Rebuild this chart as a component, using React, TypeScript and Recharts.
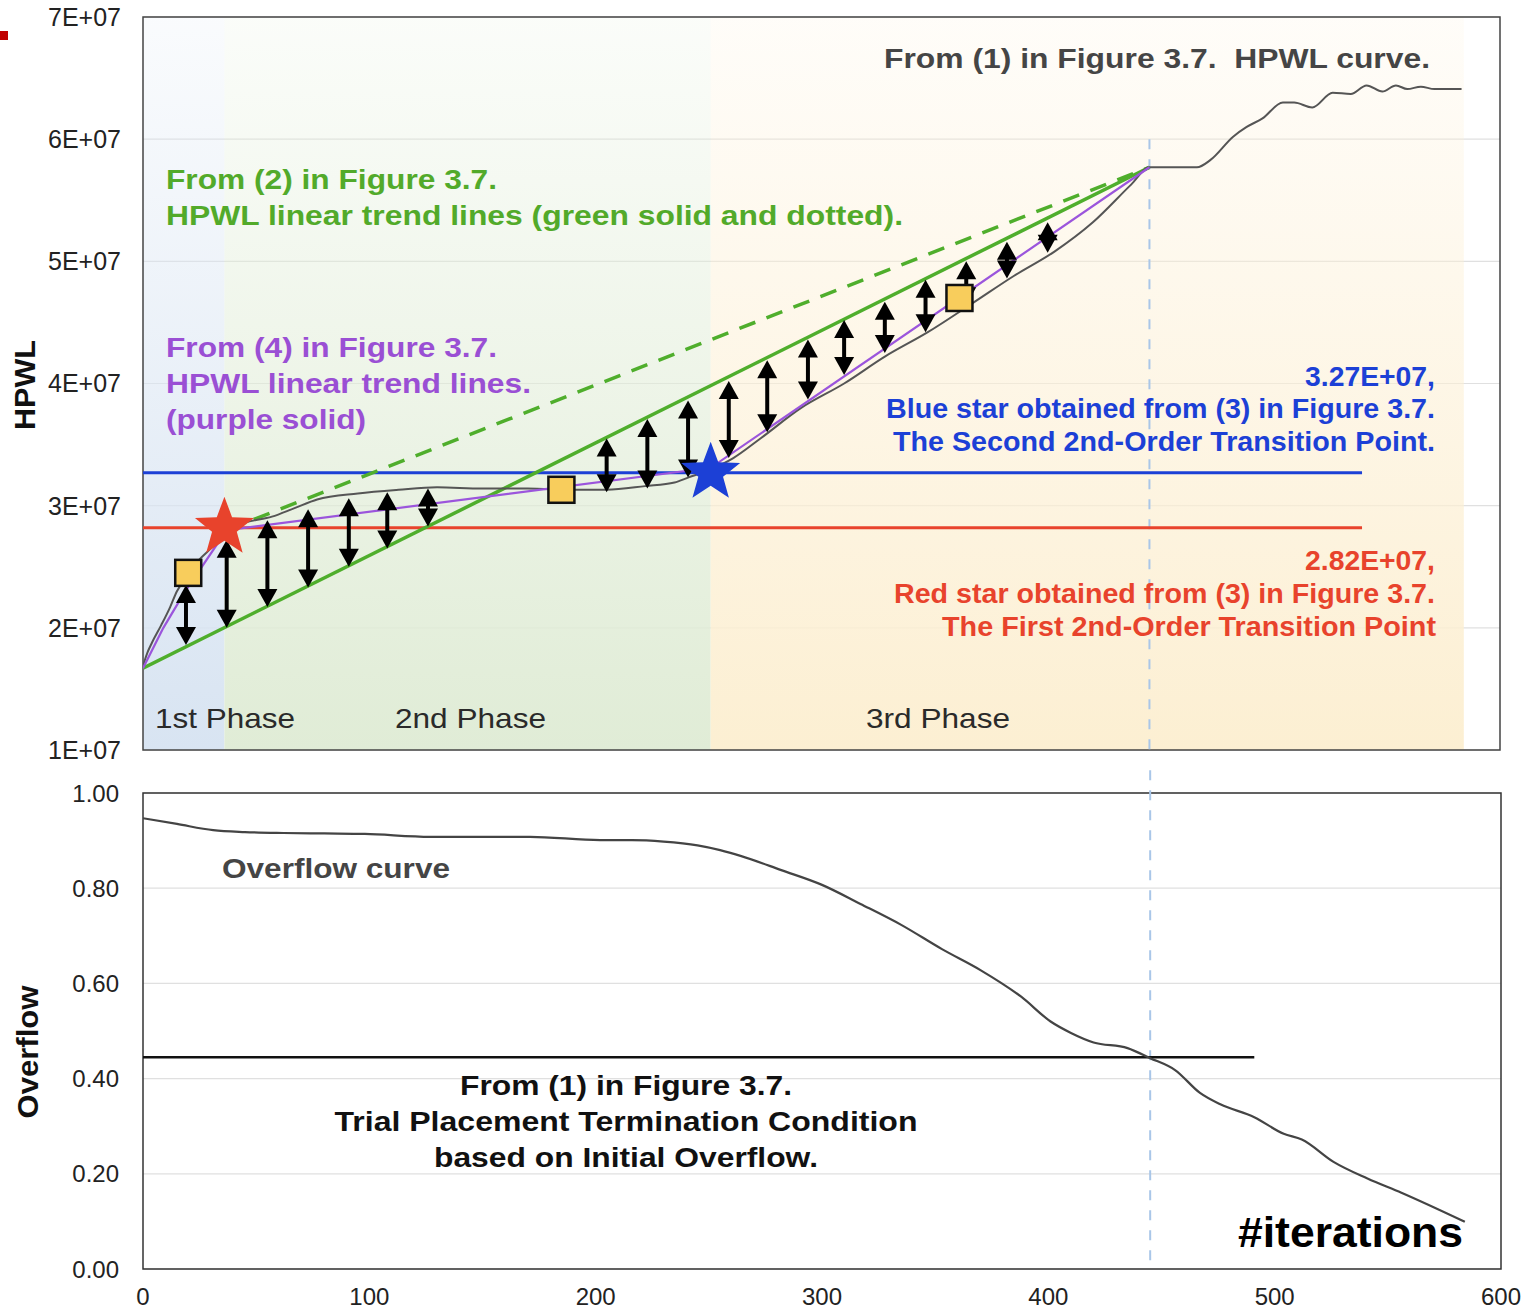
import React from 'react';
import {
  ComposedChart,
  Line,
  XAxis,
  YAxis,
  CartesianGrid,
  ReferenceArea,
  ReferenceLine,
  ReferenceDot,
} from 'recharts';

// ---------- axes ----------
const ITER_TICKS = [0, 100, 200, 300, 400, 500, 600];
const HPWL_TICKS = [1e7, 2e7, 3e7, 4e7, 5e7, 6e7, 7e7];
const OVERFLOW_TICKS = [0, 0.2, 0.4, 0.6, 0.8, 1.0];

// ---------- HPWL curve (iteration, wirelength) ----------
const hpwlIter = [
  0, 2, 4, 8, 12, 15, 20, 25, 30, 37, 45, 57, 67, 77, 95, 113, 130, 150, 170, 190,
  205, 222, 235, 241, 250, 261, 273, 291, 310, 328, 347, 367, 385, 403, 420, 437, 445,
  457, 466, 472, 482, 488, 495, 504, 509, 517, 526, 534, 541, 548, 554, 559, 565, 571, 583,
];
const hpwlValue = [
  1.69e7, 1.8e7, 1.88e7, 2.02e7, 2.17e7, 2.3e7, 2.43e7, 2.56e7, 2.65e7, 2.8e7, 2.86e7,
  2.91e7, 2.98e7, 3.05e7, 3.1e7, 3.13e7, 3.15e7, 3.14e7, 3.14e7, 3.13e7, 3.13e7, 3.16e7,
  3.19e7, 3.23e7, 3.29e7, 3.39e7, 3.55e7, 3.8e7, 4.0e7, 4.22e7, 4.42e7, 4.66e7, 4.88e7,
  5.08e7, 5.32e7, 5.63e7, 5.77e7, 5.77e7, 5.77e7, 5.83e7, 6.02e7, 6.1e7, 6.17e7, 6.3e7,
  6.3e7, 6.26e7, 6.38e7, 6.37e7, 6.44e7, 6.39e7, 6.44e7, 6.41e7, 6.43e7, 6.41e7, 6.41e7,
];

// ---------- trend lines ----------
const purpleIter = [0, 9, 18, 37, 251, 445];
const purpleValue = [1.67e7, 2.0e7, 2.28e7, 2.8e7, 3.31e7, 5.77e7];
const greenSolidIter = [0, 445];
const greenSolidValue = [1.67e7, 5.77e7];
const greenDashedIter = [37, 445];
const greenDashedValue = [2.8e7, 5.77e7];

// ---------- phases ----------
const phaseNames = ['1st Phase', '2nd Phase', '3rd Phase'];
const phaseStart = [0, 36, 251];
const phaseEnd = [36, 251, 584];

// ---------- transition points ----------
const redStarIter = 36;
const redStarValue = 2.82e7;
const blueStarIter = 251;
const blueStarValue = 3.27e7;
const levelLineEnd = 539;
const terminationIter = 445;

// ---------- sample markers ----------
const squareIter = [20, 185, 361];
const squareValue = [2.45e7, 3.13e7, 4.7e7];

// ---------- gap arrows between trend lines ----------
const arrowIter = [19, 37, 55, 73, 91, 108, 126, 205, 223, 241, 259, 276, 294, 310, 328, 346, 364, 382, 400];
const arrowUpper = [
  2.35e7, 2.72e7, 2.88e7, 2.97e7, 3.06e7, 3.11e7, 3.14e7, 3.55e7, 3.71e7, 3.86e7, 4.02e7,
  4.19e7, 4.36e7, 4.52e7, 4.67e7, 4.85e7, 5.0e7, 5.16e7, 5.32e7,
];
const arrowLower = [
  1.86e7, 2.0e7, 2.17e7, 2.33e7, 2.5e7, 2.65e7, 2.83e7, 3.11e7, 3.14e7, 3.23e7, 3.39e7,
  3.6e7, 3.87e7, 4.07e7, 4.25e7, 4.42e7, 4.64e7, 4.86e7, 5.07e7,
];

// ---------- overflow curve ----------
const overflowIter = [
  0, 15, 31, 45, 62, 80, 98, 127, 150, 171, 202, 216, 230, 245, 255, 264, 282, 300, 317,
  335, 353, 370, 388, 401, 410, 420, 435, 445, 456, 467, 476, 491, 504, 512, 526, 541, 556, 584,
];
const overflowValue = [
  0.947, 0.935, 0.922, 0.918, 0.916, 0.915, 0.914, 0.908, 0.908, 0.908, 0.901, 0.901, 0.898,
  0.89, 0.88, 0.868, 0.838, 0.807, 0.767, 0.723, 0.672, 0.628, 0.572, 0.52, 0.496, 0.476,
  0.464, 0.443, 0.418, 0.37, 0.346, 0.319, 0.284, 0.272, 0.225, 0.19, 0.16, 0.099,
];
const overflowThreshold = 0.445;
const thresholdEnd = 491;

const toPoints = (xs: number[], ys: number[]) => xs.map((x, i) => ({ x, y: ys[i] }));

const hpwlData = toPoints(hpwlIter, hpwlValue);
const purpleData = toPoints(purpleIter, purpleValue);
const greenSolidData = toPoints(greenSolidIter, greenSolidValue);
const greenDashedData = toPoints(greenDashedIter, greenDashedValue);
const overflowData = toPoints(overflowIter, overflowValue);

const FONT = "'Liberation Sans', Arial, Helvetica, sans-serif";
const GREEN = '#4fae2c';
const PURPLE = '#9b55dc';
const BLUE = '#1c40d6';
const RED = '#e8432c';

const fmtE = (v: number) => `${Math.round(v / 1e7)}E+07`;
const fmt2 = (v: number) => v.toFixed(2);

const starPoints = (cx: number, cy: number, outer: number, inner: number) => {
  const pts: string[] = [];
  for (let i = 0; i < 10; i++) {
    const r = i % 2 === 0 ? outer : inner;
    const a = -Math.PI / 2 + (i * Math.PI) / 5;
    pts.push(`${cx + r * Math.cos(a)},${cy + r * Math.sin(a)}`);
  }
  return pts.join(' ');
};

const makeStar = (color: string) => (p: any) => (
  <polygon points={starPoints(p.cx, p.cy, 31, 13)} fill={color} />
);

const SquareMark = (p: any) => (
  <rect x={p.cx - 13} y={p.cy - 13} width={26} height={26} fill="#f8cd5c" stroke="#111" strokeWidth={2.5} />
);

const DoubleArrow = (p: any) => {
  const x = p.x1;
  const top = Math.min(p.y1, p.y2);
  const bot = Math.max(p.y1, p.y2);
  const hl = 18;
  const hw = 10;
  const s1 = top + hl / 2;
  const s2 = Math.max(s1, bot - hl / 2);
  return (
    <g>
      <line x1={x} x2={x} y1={s1} y2={s2} stroke="#000" strokeWidth={4} />
      <polygon points={`${x},${top} ${x - hw},${top + hl} ${x + hw},${top + hl}`} fill="#000" />
      <polygon points={`${x},${bot} ${x - hw},${bot - hl} ${x + hw},${bot - hl}`} fill="#000" />
    </g>
  );
};

type NoteProps = {
  x: number;
  y: number;
  fill: string;
  len: number;
  anchor?: 'start' | 'middle' | 'end';
  size?: number;
  weight?: string;
  children: React.ReactNode;
};

const Note = ({ x, y, fill, len, anchor = 'start', size = 27, weight = 'bold', children }: NoteProps) => (
  <text
    x={x}
    y={y}
    fill={fill}
    textAnchor={anchor}
    fontSize={size}
    fontWeight={weight}
    fontFamily={FONT}
    textLength={len}
    lengthAdjust="spacingAndGlyphs"
    style={{ whiteSpace: 'pre' }}
  >
    {children}
  </text>
);

const tickStyle = { fontSize: 24, fill: '#222', fontFamily: FONT };
const hpwlTickStyle = { fontSize: 25, fill: '#222', fontFamily: FONT };

const phaseFill = ['url(#phase1)', 'url(#phase2)', 'url(#phase3)'];
const phaseLabelX = [155, 395, 866];
const phaseLabelLen = [140, 151, 144];

function HpwlPanel() {
  return (
    <ComposedChart width={1521} height={770} margin={{ top: 17, right: 21, bottom: 20, left: 0 }}>
      <defs>
        <linearGradient id="phase1" x1="0" y1="0" x2="0" y2="1">
          <stop offset="0%" stopColor="#dbe6f3" stopOpacity={0.15} />
          <stop offset="100%" stopColor="#d8e4f2" stopOpacity={1} />
        </linearGradient>
        <linearGradient id="phase2" x1="0" y1="0" x2="0" y2="1">
          <stop offset="0%" stopColor="#e2eed9" stopOpacity={0.15} />
          <stop offset="100%" stopColor="#e0ecd6" stopOpacity={1} />
        </linearGradient>
        <linearGradient id="phase3" x1="0" y1="0" x2="0" y2="1">
          <stop offset="0%" stopColor="#fdf0d6" stopOpacity={0.15} />
          <stop offset="100%" stopColor="#fcefd2" stopOpacity={1} />
        </linearGradient>
      </defs>
      <XAxis type="number" dataKey="x" domain={[0, 600]} ticks={ITER_TICKS} hide allowDataOverflow />
      <YAxis
        type="number"
        domain={[1e7, 7e7]}
        ticks={HPWL_TICKS}
        interval={0}
        tickFormatter={fmtE}
        width={143}
        axisLine={false}
        tickLine={false}
        tickSize={0}
        tickMargin={22}
        tick={hpwlTickStyle}
      />
      {phaseNames.map((n, i) => (
        <ReferenceArea
          key={n}
          x1={phaseStart[i]}
          x2={phaseEnd[i]}
          y1={1e7}
          y2={7e7}
          fill={phaseFill[i]}
          fillOpacity={1}
          stroke="none"
        />
      ))}
      <CartesianGrid vertical={false} stroke="#e0e0e0" strokeWidth={1.2} />
      <ReferenceLine
        segment={[
          { x: terminationIter, y: 6e7 },
          { x: terminationIter, y: 1e7 },
        ]}
        stroke="#a9c6e8"
        strokeWidth={2}
        strokeDasharray="10 10"
      />
      <ReferenceLine
        segment={[
          { x: 0, y: blueStarValue },
          { x: levelLineEnd, y: blueStarValue },
        ]}
        stroke={BLUE}
        strokeWidth={3}
      />
      <ReferenceLine
        segment={[
          { x: 0, y: redStarValue },
          { x: levelLineEnd, y: redStarValue },
        ]}
        stroke={RED}
        strokeWidth={3}
      />
      <Line data={greenDashedData} dataKey="y" type="linear" stroke={GREEN} strokeWidth={3.5} strokeDasharray="17 12" dot={false} isAnimationActive={false} />
      <Line data={greenSolidData} dataKey="y" type="linear" stroke={GREEN} strokeWidth={3.5} dot={false} isAnimationActive={false} />
      <Line data={hpwlData} dataKey="y" type="monotone" stroke="#555" strokeWidth={2} dot={false} isAnimationActive={false} />
      <Line data={purpleData} dataKey="y" type="linear" stroke={PURPLE} strokeWidth={2.2} dot={false} isAnimationActive={false} />
      {arrowIter.map((it, i) => (
        <ReferenceLine
          key={`a${it}`}
          segment={[
            { x: it, y: arrowUpper[i] },
            { x: it, y: arrowLower[i] },
          ]}
          shape={DoubleArrow}
        />
      ))}
      {squareIter.map((it, i) => (
        <ReferenceDot key={`s${it}`} x={it} y={squareValue[i]} r={13} shape={SquareMark} />
      ))}
      <ReferenceDot x={redStarIter} y={redStarValue} r={31} shape={makeStar(RED)} />
      <ReferenceDot x={blueStarIter} y={blueStarValue} r={31} shape={makeStar(BLUE)} />
      <ReferenceArea x1={0} x2={600} y1={1e7} y2={7e7} fill="none" stroke="#444" strokeWidth={1.5} ifOverflow="visible" />
    </ComposedChart>
  );
}

// Text annotations for the HPWL panel, layered above the plot.
function HpwlNotes() {
  return (
    <svg width={1521} height={770} style={{ position: 'absolute', left: 0, top: 0, pointerEvents: 'none' }}>
      <Note x={1430} y={68} fill="#454545" anchor="end" len={546}>{'From (1) in Figure 3.7.  HPWL curve.'}</Note>

      <Note x={166} y={189} fill="#52aa2a" len={331}>From (2) in Figure 3.7.</Note>
      <Note x={166} y={225} fill="#52aa2a" len={737}>HPWL linear trend lines (green solid and dotted).</Note>

      <Note x={166} y={357} fill="#9a4fd4" len={331}>From (4) in Figure 3.7.</Note>
      <Note x={166} y={393} fill="#9a4fd4" len={365}>HPWL linear trend lines.</Note>
      <Note x={166} y={429} fill="#9a4fd4" len={200}>(purple solid)</Note>

      <Note x={1435} y={386} fill={BLUE} anchor="end" len={130}>3.27E+07,</Note>
      <Note x={1435} y={418} fill={BLUE} anchor="end" len={549}>Blue star obtained from (3) in Figure 3.7.</Note>
      <Note x={1435} y={451} fill={BLUE} anchor="end" len={542}>The Second 2nd-Order Transition Point.</Note>

      <Note x={1435} y={570} fill={RED} anchor="end" len={130}>2.82E+07,</Note>
      <Note x={1435} y={603} fill={RED} anchor="end" len={541}>Red star obtained from (3) in Figure 3.7.</Note>
      <Note x={1436} y={636} fill={RED} anchor="end" len={494}>The First 2nd-Order Transition Point</Note>

      {phaseNames.map((n, i) => (
        <Note key={`l${n}`} x={phaseLabelX[i]} y={728} fill="#2a2a2a" weight="normal" size={28} len={phaseLabelLen[i]}>
          {n}
        </Note>
      ))}

      <text
        x={0}
        y={0}
        transform="translate(35 385) rotate(-90)"
        textAnchor="middle"
        fontSize={29}
        fontWeight="bold"
        fontFamily={FONT}
        fill="#111"
        textLength={90}
        lengthAdjust="spacingAndGlyphs"
      >
        HPWL
      </text>
    </svg>
  );
}

function OverflowPanel() {
  return (
    <ComposedChart width={1521} height={542} margin={{ top: 23, right: 20, bottom: 3, left: 0 }}>
      <XAxis
        type="number"
        dataKey="x"
        domain={[0, 600]}
        ticks={ITER_TICKS}
        interval={0}
        height={40}
        axisLine={false}
        tickLine={false}
        tickSize={0}
        tickMargin={19}
        tick={tickStyle}
        allowDataOverflow
      />
      <YAxis
        type="number"
        domain={[0, 1]}
        ticks={OVERFLOW_TICKS}
        interval={0}
        tickFormatter={fmt2}
        width={143}
        axisLine={false}
        tickLine={false}
        tickSize={0}
        tickMargin={24}
        tick={tickStyle}
      />
      <CartesianGrid vertical={false} stroke="#e0e0e0" strokeWidth={1.2} />
      <ReferenceLine
        segment={[
          { x: terminationIter, y: 1.09 },
          { x: terminationIter, y: 0 },
        ]}
        stroke="#a9c6e8"
        strokeWidth={2}
        strokeDasharray="10 10"
        ifOverflow="visible"
      />
      <ReferenceLine
        segment={[
          { x: 0, y: overflowThreshold },
          { x: thresholdEnd, y: overflowThreshold },
        ]}
        stroke="#111"
        strokeWidth={2.5}
      />
      <Line data={overflowData} dataKey="y" type="monotone" stroke="#444" strokeWidth={2.2} dot={false} isAnimationActive={false} />
      <ReferenceArea x1={0} x2={600} y1={0} y2={1} fill="none" stroke="#333" strokeWidth={1.5} ifOverflow="visible" />
    </ComposedChart>
  );
}

// Text annotations for the overflow panel, layered above the plot.
function OverflowNotes() {
  return (
    <svg width={1521} height={542} style={{ position: 'absolute', left: 0, top: 0, pointerEvents: 'none' }}>
      <Note x={222} y={108} fill="#454545" len={228}>Overflow curve</Note>
      <Note x={626} y={325} fill="#111" anchor="middle" len={332}>From (1) in Figure 3.7.</Note>
      <Note x={626} y={361} fill="#111" anchor="middle" len={583}>Trial Placement Termination Condition</Note>
      <Note x={626} y={397} fill="#111" anchor="middle" len={384}>based on Initial Overflow.</Note>
      <Note x={1463} y={477} fill="#000" anchor="end" size={42} len={225}>#iterations</Note>
      <text
        x={0}
        y={0}
        transform="translate(38 282) rotate(-90)"
        textAnchor="middle"
        fontSize={29}
        fontWeight="bold"
        fontFamily={FONT}
        fill="#111"
        textLength={133}
        lengthAdjust="spacingAndGlyphs"
      >
        Overflow
      </text>
    </svg>
  );
}

export default function App() {
  return (
    <div style={{ position: 'absolute', left: 0, top: 0, width: 1521, height: 1312, background: '#fff', overflow: 'hidden' }}>
      <div style={{ position: 'absolute', left: 0, top: 31, width: 8, height: 9, background: '#c00000' }} />
      <div style={{ position: 'absolute', left: 0, top: 0, width: 1521, height: 770 }}>
        <HpwlPanel />
        <HpwlNotes />
      </div>
      <div style={{ position: 'absolute', left: 0, top: 770, width: 1521, height: 542 }}>
        <OverflowPanel />
        <OverflowNotes />
      </div>
    </div>
  );
}
